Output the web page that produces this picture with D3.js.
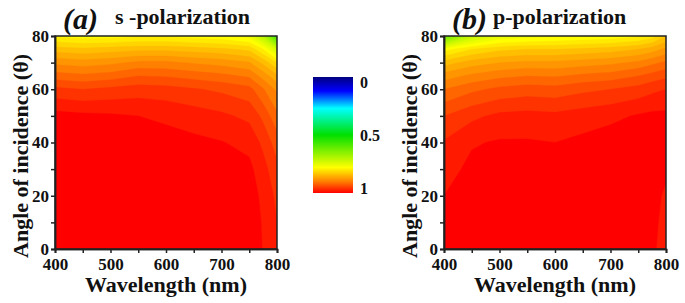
<!DOCTYPE html>
<html>
<head>
<meta charset="utf-8">
<script src="https://cdn.jsdelivr.net/npm/d3@7"></script>
<style>
    body { margin: 0; background: #fff; }
    svg text { font-family: "Liberation Serif", "DejaVu Serif", serif; font-weight: bold; fill: #111; }
    .axis path, .axis line { stroke: #222; stroke-width: 1.5; }
    .axis text { font-size: 17px; font-family: "Liberation Serif", "DejaVu Serif", serif; font-weight: bold; }
</style>
</head>
<body>
<svg id="chart" width="685" height="303"></svg>
<script>

// Grid: columns = wavelength (nm), rows = angle (deg), top row first
var wavelengths = [400, 450, 500, 550, 600, 650, 700, 750, 775, 800];
var angles = [80, 75, 70, 65, 60, 50, 40, 30, 20, 10, 0];

var sPol = [
    [0.775, 0.77, 0.77, 0.775, 0.775, 0.77, 0.765, 0.75, 0.69, 0.55],
    [0.83, 0.825, 0.83, 0.835, 0.835, 0.83, 0.825, 0.815, 0.78, 0.72],
    [0.875, 0.87, 0.875, 0.885, 0.885, 0.878, 0.872, 0.862, 0.835, 0.80],
    [0.91, 0.905, 0.91, 0.92, 0.918, 0.912, 0.906, 0.897, 0.872, 0.845],
    [0.945, 0.94, 0.945, 0.95, 0.948, 0.942, 0.936, 0.927, 0.902, 0.875],
    [0.988, 0.985, 0.983, 0.98, 0.976, 0.97, 0.964, 0.955, 0.935, 0.905],
    [0.993, 0.992, 0.991, 0.99, 0.988, 0.985, 0.981, 0.974, 0.955, 0.93],
    [0.996, 0.996, 0.995, 0.995, 0.994, 0.993, 0.99, 0.985, 0.968, 0.945],
    [1, 1, 1, 1, 1, 0.998, 0.995, 0.99, 0.975, 0.955],
    [1, 1, 1, 1, 1, 0.999, 0.997, 0.992, 0.978, 0.96],
    [1, 1, 1, 1, 1, 1, 0.997, 0.993, 0.979, 0.962]
];

var pPol = [
    [0.6, 0.7, 0.74, 0.75, 0.755, 0.76, 0.765, 0.775, 0.79, 0.82],
    [0.77, 0.8, 0.815, 0.82, 0.82, 0.825, 0.83, 0.84, 0.85, 0.865],
    [0.83, 0.85, 0.86, 0.865, 0.865, 0.87, 0.875, 0.885, 0.895, 0.905],
    [0.87, 0.885, 0.895, 0.9, 0.898, 0.905, 0.91, 0.92, 0.928, 0.935],
    [0.9, 0.915, 0.925, 0.93, 0.928, 0.935, 0.94, 0.948, 0.955, 0.96],
    [0.94, 0.955, 0.965, 0.967, 0.965, 0.97, 0.975, 0.982, 0.985, 0.985],
    [0.962, 0.978, 0.982, 0.982, 0.98, 0.985, 0.99, 0.993, 0.994, 0.99],
    [0.972, 0.985, 0.99, 0.99, 0.99, 0.993, 0.995, 0.996, 0.995, 0.985],
    [0.98, 0.99, 0.995, 0.995, 0.995, 0.997, 0.998, 0.998, 0.99, 0.975],
    [0.985, 0.993, 0.997, 0.998, 0.998, 0.999, 1, 1, 0.988, 0.97],
    [0.988, 0.995, 0.998, 1, 1, 1, 1, 1, 0.985, 0.968]
];

var xTicks = [400, 500, 600, 700, 800];
var xMinorTicks = [450, 550, 650, 750];
var yTicks = [0, 20, 40, 60, 80];
var yMinorTicks = [10, 30, 50, 70];

var levelStep = 0.02;
var levels = d3.range(0.5, 0.99, levelStep);

var colorValues = [0, 0.12, 0.27, 0.5, 0.78, 0.9, 1];
var colorHexes = ["#000080", "#0000ff", "#00ffff", "#00e000", "#ffff00", "#ff8000", "#ff0000"];
var colorbarTicks = [0, 0.5, 1];

var colorScale = d3.scaleLinear()
    .domain(colorValues)
    .range(colorHexes)
    .clamp(true);

var svg = d3.select("#chart");


/*
 *  ContourPanel - one filled contour map with its axes
 */

ContourPanel = function(_svg, _data, _left, _tag, _title) {
    this.svg = _svg;
    this.data = _data;
    this.left = _left;
    this.tag = _tag;
    this.title = _title;
    this.initVis();
};

ContourPanel.prototype.initVis = function() {
    var vis = this;

    vis.top = 36;
    vis.width = 222;
    vis.height = 213;

    vis.g = vis.svg.append("g")
        .attr("transform", "translate(" + vis.left + "," + vis.top + ")");

    vis.x = d3.scaleLinear().domain([400, 800]).range([0, vis.width]);
    vis.y = d3.scaleLinear().domain([0, 80]).range([vis.height, 0]);

    // grid index -> pixel (values sit at cell centres i + 0.5)
    vis.gx = d3.scaleLinear()
        .domain(wavelengths.map(function(d, i) { return i + 0.5; }))
        .range(wavelengths.map(function(d) { return vis.x(d); }))
        .clamp(true);
    vis.gy = d3.scaleLinear()
        .domain(angles.map(function(d, i) { return i + 0.5; }))
        .range(angles.map(function(d) { return vis.y(d); }))
        .clamp(true);

    vis.clipId = "clip-" + vis.tag;
    vis.g.append("clipPath")
        .attr("id", vis.clipId)
        .append("rect")
        .attr("width", vis.width)
        .attr("height", vis.height);

    vis.updateVis();
};

ContourPanel.prototype.updateVis = function() {
    var vis = this;

    var flat = [].concat.apply([], vis.data);
    var contours = d3.contours()
        .size([wavelengths.length, angles.length])
        .thresholds(levels)(flat);

    var path = d3.geoPath(d3.geoTransform({
        point: function(px, py) { this.stream.point(vis.gx(px), vis.gy(py)); }
    }));

    vis.g.append("g")
        .attr("clip-path", "url(#" + vis.clipId + ")")
        .selectAll("path")
        .data(contours)
        .enter().append("path")
        .attr("d", path)
        .attr("fill", function(d) { return colorScale(Math.min(1, d.value + levelStep)); })
        .attr("stroke", function(d) { return colorScale(Math.min(1, d.value + levelStep)); })
        .attr("stroke-width", 0.3);

    // Axes
    vis.g.append("g")
        .attr("class", "axis")
        .attr("transform", "translate(0," + vis.height + ")")
        .call(d3.axisBottom(vis.x).tickValues(xMinorTicks).tickSize(4).tickFormat(""));

    vis.g.append("g")
        .attr("class", "axis")
        .attr("transform", "translate(0," + vis.height + ")")
        .call(d3.axisBottom(vis.x).tickValues(xTicks).tickSize(4).tickPadding(5).tickFormat(d3.format("d")));

    vis.g.append("g")
        .attr("class", "axis")
        .call(d3.axisLeft(vis.y).tickValues(yMinorTicks).tickSize(4).tickFormat(""));

    vis.g.append("g")
        .attr("class", "axis")
        .call(d3.axisLeft(vis.y).tickValues(yTicks).tickSize(4).tickPadding(2).tickFormat(d3.format("d")));

    vis.g.append("rect")
        .attr("width", vis.width)
        .attr("height", vis.height)
        .attr("fill", "none")
        .attr("stroke", "#222")
        .attr("stroke-width", 1.5);

    // Labels
    vis.g.append("text")
        .attr("x", vis.width / 2)
        .attr("y", 256)
        .attr("text-anchor", "middle")
        .style("font-size", "22px")
        .text("Wavelength (nm)");

    vis.g.append("text")
        .attr("transform", "translate(-27,120) rotate(-90)")
        .attr("text-anchor", "middle")
        .style("font-size", "22px")
        .text("Angle of incidence (\u03b8)");

    vis.g.append("text")
        .attr("x", 8)
        .attr("y", -7)
        .style("font-size", "30px")
        .style("font-style", "italic")
        .text("(" + vis.tag + ")");

    vis.g.append("text")
        .attr("x", vis.tag === "a" ? 60 : 49)
        .attr("y", -12)
        .style("font-size", "22px")
        .text(vis.title);
};


var panelA = new ContourPanel(svg, sPol, 55, "a", "s -polarization");
var panelB = new ContourPanel(svg, pPol, 444, "b", "p-polarization");


// Colour bar
var cbX = 313, cbY = 77, cbW = 40, cbH = 116;

var grad = svg.append("defs").append("linearGradient")
    .attr("id", "cb-grad")
    .attr("x1", 0).attr("y1", 0).attr("x2", 0).attr("y2", 1);

grad.selectAll("stop")
    .data(colorValues)
    .enter().append("stop")
    .attr("offset", function(d) { return d; })
    .attr("stop-color", function(d) { return colorScale(d); });

svg.append("rect")
    .attr("x", cbX)
    .attr("y", cbY)
    .attr("width", cbW)
    .attr("height", cbH)
    .attr("fill", "url(#cb-grad)");

var cbScale = d3.scaleLinear().domain([0, 1]).range([cbY + 5, cbY + cbH - 5]);

svg.selectAll(".cb-label")
    .data(colorbarTicks)
    .enter().append("text")
    .attr("class", "cb-label")
    .attr("x", cbX + cbW + 7)
    .attr("y", function(d) { return cbScale(d); })
    .attr("dy", "0.35em")
    .style("font-size", "16px")
    .text(function(d) { return d; });

</script>
</body>
</html>
